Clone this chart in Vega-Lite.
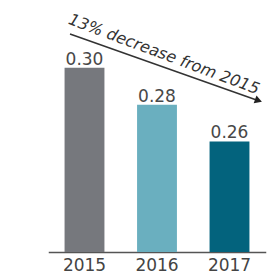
{
  "$schema": "https://vega.github.io/schema/vega-lite/v6.json",
  "width": 266,
  "height": 252,
  "autosize": {"type": "none"},
  "padding": {"left": 12, "top": 0, "right": 0, "bottom": 22},
  "background": "white",
  "config": {"view": {"stroke": null}, "font": "DejaVu Sans"},
  "datasets": {
    "bars": [
      {"year": "2015", "value": 0.30, "base": 0.2},
      {"year": "2016", "value": 0.28, "base": 0.2},
      {"year": "2017", "value": 0.26, "base": 0.2}
    ],
    "arrow": [
      {"from": "2015", "to": "2017", "y_start": 0.3183, "y_end": 0.2825}
    ],
    "head": [
      {"year": "2017", "y": 0.2822}
    ],
    "note": [
      {"year": "2016", "y": 0.3073, "label": "13% decrease from 2015"}
    ]
  },
  "layer": [
    {
      "data": {"name": "bars"},
      "mark": {"type": "bar"},
      "encoding": {
        "x": {
          "field": "year", "type": "nominal",
          "scale": {"range": [36.25, 253.75], "paddingInner": 0.45, "paddingOuter": 0.225},
          "axis": {
            "title": null, "ticks": false, "grid": false,
            "domainColor": "#555555", "domainWidth": 1.6,
            "labelFont": "DejaVu Sans", "labelFontSize": 17, "labelColor": "#444444",
            "labelPadding": 5, "labelAngle": 0
          }
        },
        "y": {
          "field": "value", "type": "quantitative",
          "scale": {"domain": [0.2, 0.3368], "zero": false, "nice": false},
          "axis": null
        },
        "y2": {"field": "base"},
        "color": {
          "field": "year", "type": "nominal",
          "scale": {"domain": ["2015", "2016", "2017"], "range": ["#76787d", "#6aafbf", "#03637d"]},
          "legend": null
        }
      }
    },
    {
      "data": {"name": "bars"},
      "mark": {"type": "text", "baseline": "alphabetic", "dy": -3, "fontSize": 17, "color": "#484848", "font": "DejaVu Sans"},
      "encoding": {
        "x": {"field": "year", "type": "nominal"},
        "y": {"field": "value", "type": "quantitative"},
        "text": {"field": "value", "type": "quantitative", "format": ".2f"}
      }
    },
    {
      "data": {"name": "arrow"},
      "mark": {"type": "rule", "color": "#333333", "strokeWidth": 1.5, "xOffset": -14.5, "x2Offset": 27},
      "encoding": {
        "x": {"field": "from", "type": "nominal"},
        "x2": {"field": "to"},
        "y": {"field": "y_start", "type": "quantitative"},
        "y2": {"field": "y_end"}
      }
    },
    {
      "data": {"name": "head"},
      "mark": {"type": "point", "shape": "triangle-right", "filled": true, "color": "#222222", "opacity": 1, "size": 70, "angle": 19.5, "xOffset": 29},
      "encoding": {
        "x": {"field": "year", "type": "nominal"},
        "y": {"field": "y", "type": "quantitative"}
      }
    },
    {
      "data": {"name": "note"},
      "mark": {"type": "text", "angle": 20.5, "align": "center", "baseline": "middle", "fontSize": 16, "fontStyle": "italic", "color": "#333333", "font": "DejaVu Sans", "xOffset": 7},
      "encoding": {
        "x": {"field": "year", "type": "nominal"},
        "y": {"field": "y", "type": "quantitative"},
        "text": {"field": "label"}
      }
    }
  ]
}
